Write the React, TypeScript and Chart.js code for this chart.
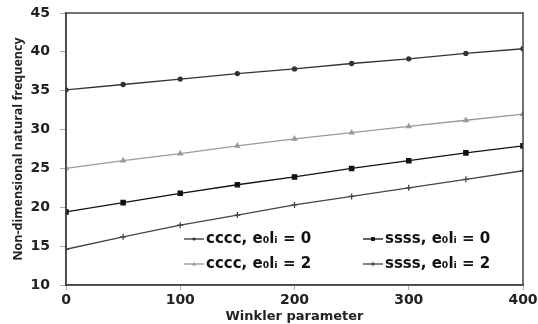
import React, { useEffect, useRef } from "react";
import { Chart, registerables } from "chart.js";
Chart.register(...registerables);

const winkler = [0, 50, 100, 150, 200, 250, 300, 350, 400];
const cccc0 = [35.1, 35.8, 36.5, 37.2, 37.8, 38.5, 39.1, 39.8, 40.4];
const cccc2 = [25.0, 26.0, 26.9, 27.9, 28.8, 29.6, 30.4, 31.2, 32.0];
const ssss0 = [19.4, 20.6, 21.8, 22.9, 23.9, 25.0, 26.0, 27.0, 27.9];
const ssss2 = [14.6, 16.2, 17.7, 19.0, 20.3, 21.4, 22.5, 23.6, 24.7];
const seriesLabels = ["cccc, e₀lᵢ = 0", "ssss, e₀lᵢ = 0", "cccc, e₀lᵢ = 2", "ssss, e₀lᵢ = 2"];
const xTitle = "Winkler parameter";
const yTitle = "Non-dimensional natural frequency";

const WIDE = "'DejaVu Sans', sans-serif";
const NARROW = "'Open Sans', 'DejaVu Sans', sans-serif";

function drawMarker(ctx: CanvasRenderingContext2D, style: string, x: number, y: number, r: number, color: string) {
  ctx.fillStyle = color;
  ctx.strokeStyle = color;
  ctx.lineWidth = 1;
  ctx.beginPath();
  if (style === "circle") {
    ctx.arc(x, y, r, 0, Math.PI * 2);
    ctx.fill();
  } else if (style === "rect") {
    ctx.fillRect(x - r * 0.8, y - r * 0.8, r * 1.6, r * 1.6);
  } else if (style === "triangle") {
    ctx.moveTo(x, y - r);
    ctx.lineTo(x + r, y + r * 0.7);
    ctx.lineTo(x - r, y + r * 0.7);
    ctx.closePath();
    ctx.fill();
  } else {
    ctx.moveTo(x, y - r);
    ctx.lineTo(x, y + r);
    ctx.moveTo(x - r, y);
    ctx.lineTo(x + r, y);
    ctx.stroke();
  }
}

const legendPlugin = {
  id: "customLegend",
  afterDraw(chart: any) {
    const { ctx, chartArea } = chart;
    ctx.save();
    ctx.strokeStyle = "#444";
    ctx.lineWidth = 1.5;
    ctx.strokeRect(chartArea.left, chartArea.top, chartArea.right - chartArea.left, chartArea.bottom - chartArea.top);
    const pos = [
      [184, 239],
      [363, 239],
      [184, 264],
      [363, 264],
    ];
    chart.data.datasets.forEach((ds: any, i: number) => {
      const [x, y] = pos[i];
      ctx.strokeStyle = ds.borderColor;
      ctx.lineWidth = 1.3;
      ctx.beginPath();
      ctx.moveTo(x, y);
      ctx.lineTo(x + 20, y);
      ctx.stroke();
      drawMarker(ctx, ds.pointStyle, x + 10, y, ds.pointRadius * 0.8, ds.pointBackgroundColor);
      ctx.fillStyle = "#111";
      ctx.font = `bold 15px ${WIDE}`;
      ctx.textBaseline = "middle";
      ctx.textAlign = "left";
      ctx.fillText(ds.label, x + 22, y);
    });
    ctx.restore();
  },
};

export default function App() {
  const ref = useRef<HTMLCanvasElement>(null);
  useEffect(() => {
    const mk = (label: string, data: number[], color: string, pointStyle: string, radius: number) => ({
      label,
      data: winkler.map((x, i) => ({ x, y: data[i] })),
      borderColor: color,
      backgroundColor: color,
      pointBackgroundColor: color,
      pointBorderColor: color,
      pointStyle,
      pointRadius: radius,
      borderWidth: 1.3,
      tension: 0,
    });
    const chart = new Chart(ref.current!, {
      type: "line",
      data: {
        datasets: [
          mk(seriesLabels[0], cccc0, "#333333", "circle", 2),
          mk(seriesLabels[1], ssss0, "#111111", "rect", 3),
          mk(seriesLabels[2], cccc2, "#9a9a9a", "triangle", 2.5),
          mk(seriesLabels[3], ssss2, "#444444", "cross", 3),
        ] as any,
      },
      options: {
        animation: false,
        responsive: false,
        maintainAspectRatio: false,
        layout: { padding: { top: 13, right: 15, left: 0, bottom: 0 } },
        plugins: { legend: { display: false }, tooltip: { enabled: false } },
        scales: {
          x: {
            type: "linear",
            min: 0,
            max: 400,
            ticks: { stepSize: 100, font: { family: WIDE, size: 14, weight: "bold" }, color: "#222", padding: 2, maxRotation: 0 },
            grid: { drawOnChartArea: false, drawTicks: true, tickLength: 5, color: "#aaa" },
            border: { display: true, color: "#444", width: 1.5 },
            title: { display: true, text: xTitle, font: { family: WIDE, size: 13, weight: "bold" }, color: "#222", padding: { top: -4, bottom: 0 } },
            afterFit(scale: any) { scale.height = 39; scale.paddingLeft = 0; scale.paddingRight = 0; },
          },
          y: {
            min: 10,
            max: 45,
            ticks: { stepSize: 5, font: { family: WIDE, size: 14, weight: "bold" }, color: "#222", padding: 10 },
            grid: { drawOnChartArea: false, drawTicks: true, tickLength: 6, color: "#aaa" },
            border: { display: true, color: "#444", width: 1.5 },
            title: { display: true, text: yTitle, font: { family: NARROW, size: 12.5, weight: "bold" }, color: "#222", padding: { top: 11, bottom: 0 } },
            afterFit(scale: any) { scale.width = 66; scale.paddingTop = 0; scale.paddingBottom = 0; },
          },
        },
      } as any,
      plugins: [legendPlugin],
    });
    return () => chart.destroy();
  }, []);
  return (
    <div style={{ position: "fixed", left: 0, top: 0, width: 538, height: 324, background: "#fff" }}>
      <canvas ref={ref} width={538} height={324} style={{ width: 538, height: 324 }} />
    </div>
  );
}
